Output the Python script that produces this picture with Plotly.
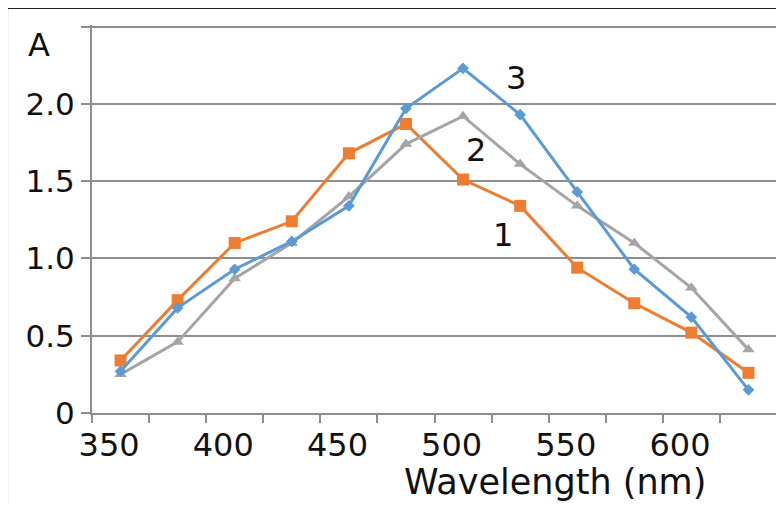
import plotly.graph_objects as go

# Data
wavelength = [355, 380, 405, 430, 455, 480, 505, 530, 555, 580, 605, 630]
series1 = [0.34, 0.73, 1.10, 1.24, 1.68, 1.87, 1.51, 1.34, 0.94, 0.71, 0.52, 0.26]
series2 = [0.25, 0.46, 0.87, 1.10, 1.40, 1.74, 1.92, 1.61, 1.34, 1.10, 0.81, 0.41]
series3 = [0.27, 0.68, 0.93, 1.11, 1.34, 1.97, 2.23, 1.93, 1.43, 0.93, 0.62, 0.15]
x_tick_vals = [350, 400, 450, 500, 550, 600]
x_tick_text = ["350", "400", "450", "500", "550", "600"]
x_boundaries = [342.5 + 25 * k for k in range(13)]
y_tick_vals = [0, 0.5, 1.0, 1.5, 2.0, 2.5]
y_tick_text = ["0", "0.5", "1.0", "1.5", "2.0", ""]
labels = ["1", "2", "3"]
label_x = [522.5, 510.7, 528.2]
label_y = [1.15, 1.70, 2.165]

FONT = "DejaVu Sans"
GRID = "#8e8e8e"

fig = go.Figure()
fig.add_trace(go.Scatter(x=wavelength, y=series1, mode="lines+markers",
                         line=dict(color="#ED7D31", width=3),
                         marker=dict(symbol="square", size=12, color="#ED7D31")))
fig.add_trace(go.Scatter(x=wavelength, y=series2, mode="lines+markers",
                         line=dict(color="#A5A5A5", width=3),
                         marker=dict(symbol="triangle-up", size=11, color="#A5A5A5")))
fig.add_trace(go.Scatter(x=wavelength, y=series3, mode="lines+markers",
                         line=dict(color="#5B9BD5", width=3),
                         marker=dict(symbol="diamond", size=9, color="#5B9BD5")))

for t, lx, ly in zip(labels, label_x, label_y):
    fig.add_annotation(x=lx, y=ly, text=t, showarrow=False, xanchor="center", yanchor="middle",
                       font=dict(family=FONT, size=32, color="#111111"))

fig.add_annotation(xref="paper", yref="paper", x=-0.077, y=0.948, text="A",
                   showarrow=False, xanchor="center", yanchor="middle",
                   font=dict(family=FONT, size=32, color="#111111"))
fig.add_annotation(xref="paper", yref="paper", x=0.676, y=-0.178, text="Wavelength (nm)",
                   showarrow=False, xanchor="center", yanchor="middle",
                   font=dict(family=FONT, size=35, color="#111111"))

# frame border
fig.add_shape(type="line", xref="paper", yref="paper", x0=-0.124, x1=-0.124, y0=-0.3, y1=1.0438,
              line=dict(color="#222222", width=2))
fig.add_shape(type="line", xref="paper", yref="paper", x0=-0.124, x1=1.02, y0=1.0438, y1=1.0438,
              line=dict(color="#222222", width=2))

fig.update_layout(
    width=776, height=497,
    margin=dict(l=84, r=7, t=17, b=92, autoexpand=False),
    paper_bgcolor="white", plot_bgcolor="white",
    showlegend=False,
    xaxis=dict(range=[342.5, 642.5], tickmode="array", tickvals=x_tick_vals, ticktext=x_tick_text,
               ticks="", showgrid=False, zeroline=False, showline=True, linecolor=GRID, linewidth=2,
               automargin=False, ticklabelstandoff=3,
               tickfont=dict(family=FONT, size=32, color="#111111"),
               minor=dict(tickmode="array", tickvals=x_boundaries, ticks="outside", ticklen=8,
                          tickwidth=1.5, tickcolor=GRID, showgrid=False)),
    yaxis=dict(range=[0, 2.51], tickmode="array", tickvals=y_tick_vals, ticktext=y_tick_text,
               ticks="outside", ticklen=9, tickwidth=2, tickcolor=GRID,
               showgrid=True, gridcolor=GRID, gridwidth=2, zeroline=False,
               showline=True, linecolor=GRID, linewidth=2, automargin=False,
               ticklabelstandoff=0,
               tickfont=dict(family=FONT, size=31, color="#111111")),
)

fig.write_html("out.html")
